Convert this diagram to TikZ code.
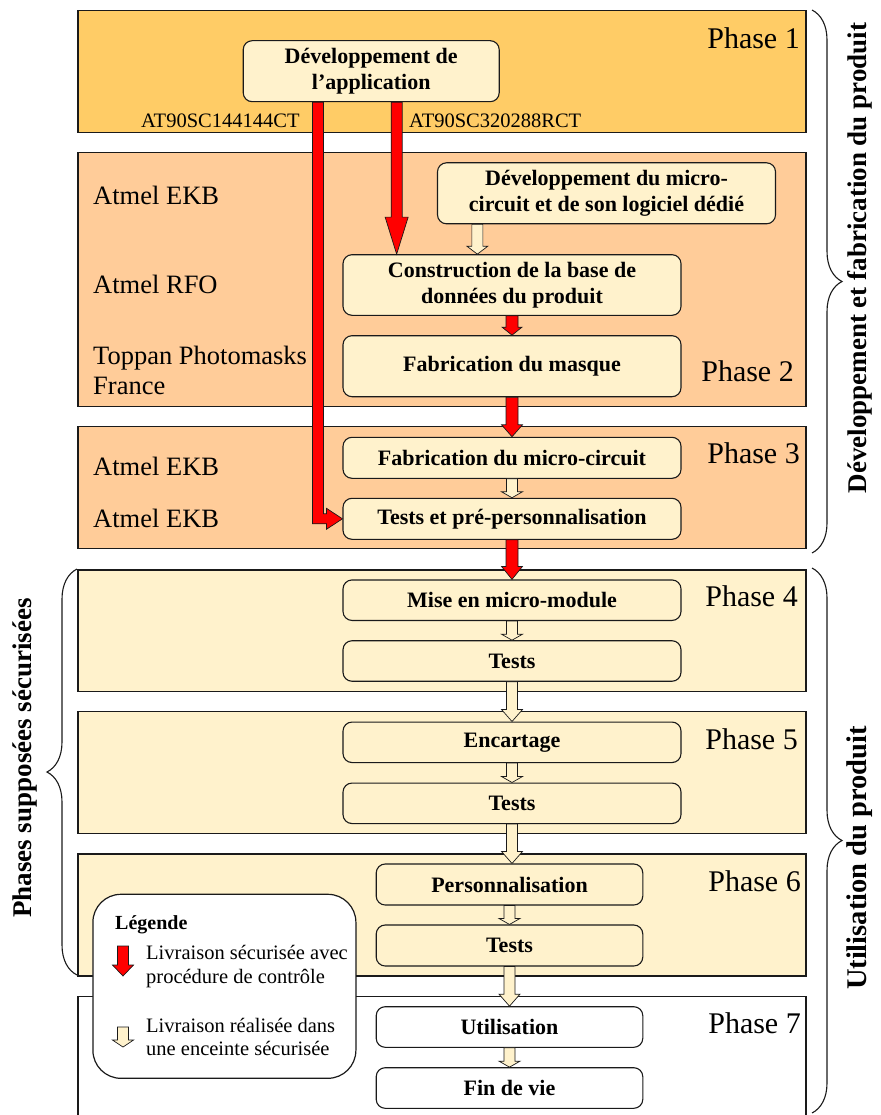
\documentclass[tikz,border=0pt]{standalone}
\usepackage{fontspec}
\setmainfont{Liberation Serif}
\usetikzlibrary{calc,decorations.pathreplacing}
\definecolor{phaseA}{HTML}{FFCC66}
\definecolor{phaseB}{HTML}{FFCC99}
\definecolor{creamc}{HTML}{FFF2CC}
\definecolor{edgec}{HTML}{1A1A1A}
% block arrow pointing down: style, from, to, half shaft, half head, head length
\newcommand\blockdown[6]{%
  \filldraw[#1] ($(#2)+(-#4,0)$) -- ($(#2)+(#4,0)$) -- ($(#2 |- #3)+(#4,-#6)$)
    -- ($(#2 |- #3)+(#5,-#6)$) -- (#2 |- #3) -- ($(#2 |- #3)+(-#5,-#6)$)
    -- ($(#2 |- #3)+(-#4,-#6)$) -- cycle;}
\begin{document}
\begin{tikzpicture}[x=1pt,y=-1pt,
  phasebox/.style={draw=edgec,line width=1.3pt},
  proc/.style={draw=edgec,line width=1.1pt,rounded corners=9pt,fill=creamc,align=center,inner sep=0pt,
    font=\bfseries\fontsize{22}{26}\selectfont},
  phaselbl/.style={anchor=east,inner sep=0pt,font=\fontsize{30}{34}\selectfont},
  orglbl/.style={anchor=west,inner sep=0pt,align=left,font=\fontsize{26.5}{30}\selectfont},
  reflbl/.style={anchor=west,inner sep=0pt,font=\fontsize{20.5}{24}\selectfont},
  leglbl/.style={anchor=west,inner sep=0pt,align=left,font=\fontsize{20.5}{23.5}\selectfont},
  redarr/.style={fill=red,draw=edgec,line width=0.7pt},
  creamarr/.style={fill=creamc,draw=edgec,line width=0.7pt},
  bracelbl/.style={rotate=90,inner sep=0pt,font=\bfseries\fontsize{27}{30}\selectfont},
  bracedeco/.style={decorate,decoration={brace,amplitude=30pt},line width=1.1pt,draw=edgec},
]
\useasboundingbox (0,0) rectangle (880,1115);

% phase boxes
\filldraw[phasebox,fill=phaseA] (78,10.7) rectangle (806,132.7);
\filldraw[phasebox,fill=phaseB] (78,152.7) rectangle (806,406.7);
\filldraw[phasebox,fill=phaseB] (78,426.7) rectangle (806,548.7);
\filldraw[phasebox,fill=creamc] (78,570) rectangle (806,691.7);
\filldraw[phasebox,fill=creamc] (78,711.7) rectangle (806,833.3);
\filldraw[phasebox,fill=creamc] (78,854) rectangle (806,976);
\draw[phasebox] (78,1116) -- (78,996.7) -- (806,996.7) -- (806,1116);

% phase labels
\node[phaselbl] (ph1) at (800,38.3) {Phase 1};
\node[phaselbl] (ph2) at (794,371.7) {Phase 2};
\node[phaselbl] (ph3) at (800,453.3) {Phase 3};
\node[phaselbl] (ph4) at (798,596.7) {Phase 4};
\node[phaselbl] (ph5) at (798,739) {Phase 5};
\node[phaselbl] (ph6) at (801,881.7) {Phase 6};
\node[phaselbl] (ph7) at (801,1023.3) {Phase 7};

% organisation labels
\node[orglbl] (o1) at (93,195) {Atmel EKB};
\node[orglbl] (o2) at (93,284) {Atmel RFO};
\node[orglbl] (o3) at (93,370) {Toppan Photomasks\\France};
\node[orglbl] (o4) at (93,466.7) {Atmel EKB};
\node[orglbl] (o5) at (93,518.3) {Atmel EKB};

% reference labels
\node[reflbl] (ref1) at (141,120.7) {AT90SC144144CT};
\node[reflbl] (ref2) at (409,120.7) {AT90SC320288RCT};

% process nodes
\node[proc,minimum width=256pt,minimum height=61pt] (N1) at (371.2,71.2) {Développement de\\l’application};
\node[proc,minimum width=338pt,minimum height=61pt] (N2) at (606.5,193.3) {Développement du micro-\\circuit et de son logiciel dédié};
\node[proc,minimum width=338pt,minimum height=60.6pt] (N3) at (512,285) {Construction de la base de\\données du produit};
\node[proc,minimum width=338pt,minimum height=61pt] (N4) at (512,366.2) {Fabrication du masque};
\node[proc,minimum width=338pt,minimum height=41pt] (N5) at (512,457.8) {Fabrication du micro-circuit};
\node[proc,minimum width=338pt,minimum height=41pt] (N6) at (512,518.8) {Tests et pré-personnalisation};
\node[proc,minimum width=338pt,minimum height=40.5pt] (N7) at (512,600.2) {Mise en micro-module};
\node[proc,minimum width=338pt,minimum height=40.5pt] (N8) at (512,661) {Tests};
\node[proc,minimum width=338pt,minimum height=40.5pt] (N9) at (512,742.3) {Encartage};
\node[proc,minimum width=338pt,minimum height=40.5pt] (N10) at (512,803.3) {Tests};
\node[proc,minimum width=266.6pt,minimum height=41pt] (N11) at (509.5,884.5) {Personnalisation};
\node[proc,minimum width=266.6pt,minimum height=41pt] (N12) at (509.5,945.5) {Tests};
\node[proc,minimum width=266.6pt,minimum height=40.6pt,fill=white] (N13) at (509.5,1027) {Utilisation};
\node[proc,minimum width=266.6pt,minimum height=40.6pt,fill=white] (N14) at (509.5,1088) {Fin de vie};

% long red arrows from the application development
\coordinate (Rs) at ($(N1.south west)+(154,0)$);
\blockdown{redarr}{Rs}{N3.north}{5.5}{11.5}{37}
\coordinate (Ls) at ($(N1.south west)+(75.3,0)$);
\filldraw[redarr] ($(Ls)+(-5.5,0)$) -- ($(Ls)+(5.5,0)$) -- ($(Ls |- N6.west)+(5.5,-5)$)
  -- ($(N6.west)+(-16,-5)$) -- ($(N6.west)+(-16,-10.5)$) -- (N6.west)
  -- ($(N6.west)+(-16,10.5)$) -- ($(N6.west)+(-16,5)$) -- ($(Ls |- N6.west)+(-5.5,5)$) -- cycle;

% arrows between process nodes
\coordinate (Cs) at ($(N2.south west)+(40.4,0)$);
\blockdown{creamarr}{Cs}{N3.north}{5.5}{10.5}{8}
\blockdown{redarr}{N3.south}{N4.north}{6}{10}{8}
\blockdown{redarr}{N4.south}{N5.north}{6}{10.5}{12}
\blockdown{creamarr}{N5.south}{N6.north}{5.5}{10.5}{6}
\blockdown{redarr}{N6.south}{N7.north}{6}{10.5}{13}
\blockdown{creamarr}{N7.south}{N8.north}{5.5}{10.5}{6}
\blockdown{creamarr}{N8.south}{N9.north}{5.5}{10.5}{12}
\blockdown{creamarr}{N9.south}{N10.north}{5.5}{10.5}{6}
\blockdown{creamarr}{N10.south}{N11.north}{5.5}{10.5}{12}
\blockdown{creamarr}{N11.south}{N12.north}{5.5}{10.5}{6}
\blockdown{creamarr}{N12.south}{N13.north}{5.5}{10.5}{12}
\blockdown{creamarr}{N13.south}{N14.north}{5.5}{10.5}{6}

% legend
\node[draw=edgec,line width=1.2pt,fill=white,rounded corners=28pt,minimum width=263pt,minimum height=184pt,inner sep=0pt] (legend) at (224.4,986.3) {};
\node[anchor=west,inner sep=0pt,font=\bfseries\fontsize{20}{24}\selectfont] (legt) at (115,925) {Légende};
\coordinate (lr1) at (123,946);
\coordinate (lr2) at (123,976);
\blockdown{redarr}{lr1}{lr2}{5.5}{10.5}{11}
\coordinate (lc1) at (123,1027);
\coordinate (lc2) at (123,1047);
\blockdown{creamarr}{lc1}{lc2}{5.5}{10.5}{7}
\node[leglbl] (leg1) at (146,966.5) {Livraison sécurisée avec\\procédure de contrôle};
\node[leglbl] (leg2) at (146,1037) {Livraison réalisée dans\\une enceinte sécurisée};

% braces
\draw[bracedeco] (812,10) -- (812,553);
\draw[bracedeco] (812,568) -- (812,1113);
\draw[bracedeco] (77,975) -- (77,569);
\node[bracelbl] (b1) at (860,258) {Développement et fabrication du produit};
\node[bracelbl,font=\bfseries\fontsize{28.5}{30}\selectfont] (b2) at (860,858) {Utilisation du produit};
\node[bracelbl] (b3) at (25,758) {Phases supposées sécurisées};
\end{tikzpicture}
\end{document}
